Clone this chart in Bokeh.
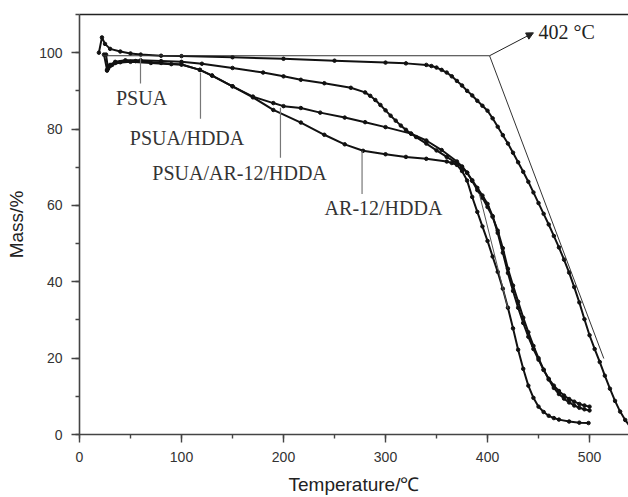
from bokeh.plotting import figure
from bokeh.models import (LinearAxis, SingleIntervalTicker, FixedTicker, Range1d,
                          Arrow, NormalHead)
from bokeh.core.properties import value
from bokeh.embed import file_html
from bokeh.resources import INLINE

# ---------------- data ----------------
psua_t = [19, 22, 25, 30, 40, 50, 60, 80, 100, 150, 200, 250, 300, 320, 340, 345, 350, 355,
          360, 365, 370, 375, 380, 385, 390, 395, 400, 405, 410, 415, 420, 425, 430, 435, 440,
          445, 450, 455, 460, 465, 470, 475, 480, 485, 490, 495, 500, 505, 510, 515, 520, 525,
          530, 535, 540]
psua_m = [100.0, 104.0, 102.3, 101.0, 100.3, 99.8, 99.5, 99.2, 99.1, 98.8, 98.4, 97.9, 97.4,
          97.2, 96.8, 96.5, 96.1, 95.5, 94.8, 93.8, 92.6, 91.4, 90.0, 88.8, 87.4, 86.1, 84.8,
          82.8, 80.6, 78.4, 76.2, 73.8, 71.3, 68.8, 66.2, 63.4, 60.6, 57.8, 55.0, 52.0, 49.0,
          45.8, 42.4, 38.6, 34.6, 30.2, 26.0, 22.4, 19.0, 15.4, 12.0, 8.8, 6.0, 3.8, 2.0]

hdda_t = [24, 27, 30, 35, 45, 60, 80, 100, 120, 150, 180, 200, 217, 240, 266, 280, 285, 290,
          295, 300, 305, 310, 315, 320, 325, 330, 340, 350, 360, 370, 375, 380, 385, 390, 395,
          400, 405, 410, 415, 420, 425, 430, 435, 440, 445, 450, 455, 460, 465, 470, 475, 480,
          485, 490, 495, 500]
hdda_m = [99.5, 95.5, 96.8, 97.6, 98.0, 98.0, 97.8, 97.6, 97.1, 96.0, 94.8, 93.8, 92.9, 92.0,
          90.8, 89.6, 88.7, 87.6, 86.3, 84.9, 83.5, 82.2, 80.9, 79.8, 78.8, 77.9, 76.2, 74.4,
          72.7, 71.0, 70.0, 68.5, 66.6, 64.6, 62.6, 60.4, 57.2, 52.8, 47.6, 42.3, 37.6, 33.2,
          29.2, 25.6, 22.4, 19.6, 16.9, 14.6, 12.8, 11.4, 10.2, 9.3, 8.6, 8.0, 7.6, 7.3]

ar_hdda_t = [26, 28, 32, 40, 55, 80, 100, 118, 130, 150, 170, 190, 200, 217, 236, 260, 280,
             300, 325, 340, 355, 370, 375, 380, 385, 390, 395, 400, 405, 410, 415, 420, 425,
             430, 435, 440, 445, 450, 455, 460, 465, 470, 475, 480, 485, 490, 495, 500]
ar_hdda_m = [99.5, 95.8, 96.8, 97.5, 97.8, 97.3, 96.9, 95.5, 94.0, 91.2, 88.5, 86.8, 86.0,
             85.5, 84.3, 83.0, 81.8, 80.5, 78.8, 77.0, 74.5, 71.5, 70.2, 68.6, 66.4, 64.0,
             62.0, 59.6, 57.0, 53.4, 48.8, 43.4, 39.0, 34.8, 30.6, 26.8, 23.2, 20.0, 17.0,
             14.4, 12.2, 10.6, 9.4, 8.4, 7.6, 7.0, 6.6, 6.3]

ar_t = [27, 30, 35, 50, 70, 90, 100, 118, 130, 150, 170, 190, 217, 240, 260, 278, 300, 320,
        340, 360, 365, 370, 375, 380, 385, 390, 395, 400, 405, 410, 415, 420, 425, 430, 435,
        440, 445, 450, 455, 460, 465, 470, 480, 490, 499]
ar_m = [95.3, 96.5, 97.3, 97.6, 97.3, 97.0, 96.9, 95.5, 94.0, 91.2, 88.3, 85.0, 81.7, 78.5,
        76.0, 74.3, 73.4, 72.7, 72.2, 71.5, 71.1, 70.6, 69.0, 66.5, 62.2, 58.3, 54.5, 50.7,
        46.6, 42.6, 38.2, 33.2, 27.8, 22.2, 17.2, 12.8, 9.6, 7.3, 5.9, 4.9, 4.3, 3.9, 3.4,
        3.1, 3.0]

# onset construction for PSUA
baseline_x = [22, 402]
baseline_y = [99.2, 99.2]
tangent_x = [402, 514]
tangent_y = [99.2, 19.9]
tangent2_x = [392, 420]
tangent2_y = [63.0, 33.0]
arrow_start = (402, 99.2)
arrow_end = (445, 105.2)
onset_label = "402 °C"
onset_pos = (450, 105.4)

# labels with their leader lines
labels = ["PSUA", "PSUA/HDDA", "PSUA/AR-12/HDDA", "AR-12/HDDA"]
label_x = [60.8, 105.4, 156.9, 298.0]
label_y = [88.2, 77.7, 68.6, 59.3]
leader_x = [59.8, 118.6, 197.0, 277.0]
leader_top = [98.7, 94.8, 85.6, 74.3]
leader_bottom = [91.9, 82.7, 72.5, 63.0]

x_ticks_interval = 100
y_ticks_interval = 20

# ---------------- figure ----------------
p = figure(width=628, height=497, output_backend="svg", toolbar_location=None,
           x_range=Range1d(0, 538.2), y_range=Range1d(0, 110),
           min_border_left=79, min_border_right=0, min_border_top=14, min_border_bottom=63,
           x_axis_label="Temperature/℃", y_axis_label="Mass/%")
p.grid.visible = False
p.outline_line_color = None
p.background_fill_color = "white"
p.border_fill_color = "white"

p.xaxis.ticker = SingleIntervalTicker(interval=x_ticks_interval, num_minor_ticks=2)
p.yaxis.ticker = SingleIntervalTicker(interval=y_ticks_interval, num_minor_ticks=2)
for ax in (p.xaxis[0], p.yaxis[0]):
    ax.axis_line_color = "#444444"
    ax.axis_line_width = 1.6
    ax.major_tick_line_color = "#444444"
    ax.minor_tick_line_color = "#444444"
    ax.major_tick_line_width = 1.4
    ax.minor_tick_line_width = 1.4
    ax.major_tick_in = 0
    ax.major_tick_out = 8
    ax.minor_tick_in = 0
    ax.minor_tick_out = 4
    ax.major_label_text_font = "Liberation Sans"
    ax.major_label_text_font_size = "14px"
    ax.major_label_text_color = "#333333"
    ax.axis_label_text_font = "Liberation Sans"
    ax.axis_label_text_font_size = "19px"
    ax.axis_label_text_font_style = "normal"
    ax.axis_label_text_color = "#222222"
    ax.major_label_standoff = 9
    ax.axis_label_standoff = 9

top = LinearAxis(ticker=FixedTicker(ticks=[]), major_label_text_font_size="0px",
                 major_tick_out=0, major_tick_in=0, minor_tick_out=0, minor_tick_in=0,
                 major_label_standoff=0, axis_line_color="#222222", axis_line_width=1.6)
p.add_layout(top, "above")

# curves
for xs, ys in [(psua_t, psua_m), (hdda_t, hdda_m), (ar_hdda_t, ar_hdda_m), (ar_t, ar_m)]:
    p.line(xs, ys, line_color="#111111", line_width=2)
    p.scatter(xs, ys, size=3.5, color="#111111")

# onset construction
p.line(baseline_x, baseline_y, line_color="#333333", line_width=1)
p.line(tangent_x, tangent_y, line_color="#333333", line_width=1)
p.line(tangent2_x, tangent2_y, line_color="#555555", line_width=1)
p.add_layout(Arrow(end=NormalHead(size=7, fill_color="#222222", line_color="#222222"),
                   x_start=arrow_start[0], y_start=arrow_start[1],
                   x_end=arrow_end[0], y_end=arrow_end[1],
                   line_color="#222222", line_width=1))
p.text([onset_pos[0]], [onset_pos[1]], text=[onset_label], text_font=value("Liberation Serif"),
       text_font_size="20px", text_color="#222222", text_baseline="alphabetic", text_align="left")

# leader lines and labels
for lx, lt, lb in zip(leader_x, leader_top, leader_bottom):
    p.line([lx, lx], [lt, lb], line_color="#777777", line_width=1.2)
p.text(label_x, label_y, text=labels, text_font=value("Liberation Serif"),
       text_font_size="20px", text_color="#333333", text_align="center", text_baseline="middle")

open("out.html", "w").write(file_html(p, INLINE))
